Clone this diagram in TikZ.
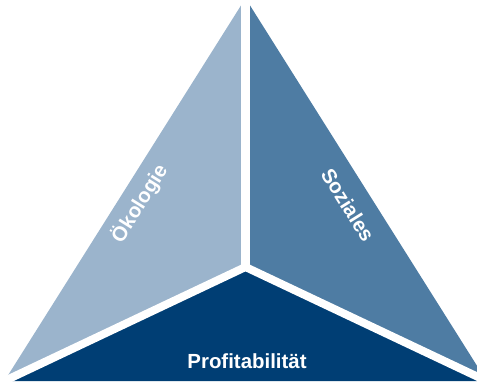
\documentclass[tikz,border=0pt]{standalone}
\usepackage{fontspec}
\setmainfont{Liberation Sans}
\usetikzlibrary{calc}
\definecolor{lightblue}{RGB}{155,180,204}
\definecolor{midblue}{RGB}{78,124,163}
\definecolor{darkblue}{RGB}{0,62,116}
\tikzset{
  band/.style={white, line width=#1},
  label/.style={text=white, font=\bfseries\fontsize{20.5}{24}\selectfont, inner sep=0pt}
}
\begin{document}
\begin{tikzpicture}[x=1bp,y=-1bp]
\useasboundingbox (0,0) rectangle (477,383);
\clip (0,0) rectangle (477,383);
\coordinate (A) at (245.5,-1.7);
\coordinate (B) at (4.4,381);
\coordinate (C) at (486.6,381);
\coordinate (O) at (245.5,267);
\coordinate (Atop) at (245.5,-20);
\coordinate (Bx) at ($(O)!1.2!(B)$);
\coordinate (Cx) at ($(O)!1.2!(C)$);
\fill[lightblue] (A) -- (B) -- (O) -- cycle;
\fill[midblue] (A) -- (O) -- (C) -- cycle;
\fill[darkblue] (B) -- (C) -- (O) -- cycle;
\draw[band=9] (O) -- (Atop);
\draw[band=8, line join=miter] (Bx) -- (O) -- (Cx);
\node[label, rotate=58] (oek) at (139.5,203.5) {Ökologie};
\node[label, rotate=-58] (soz) at (348,205) {Soziales};
\node[label, anchor=base] (prof) at (247,368.5) {Profitabilität};
\end{tikzpicture}
\end{document}
